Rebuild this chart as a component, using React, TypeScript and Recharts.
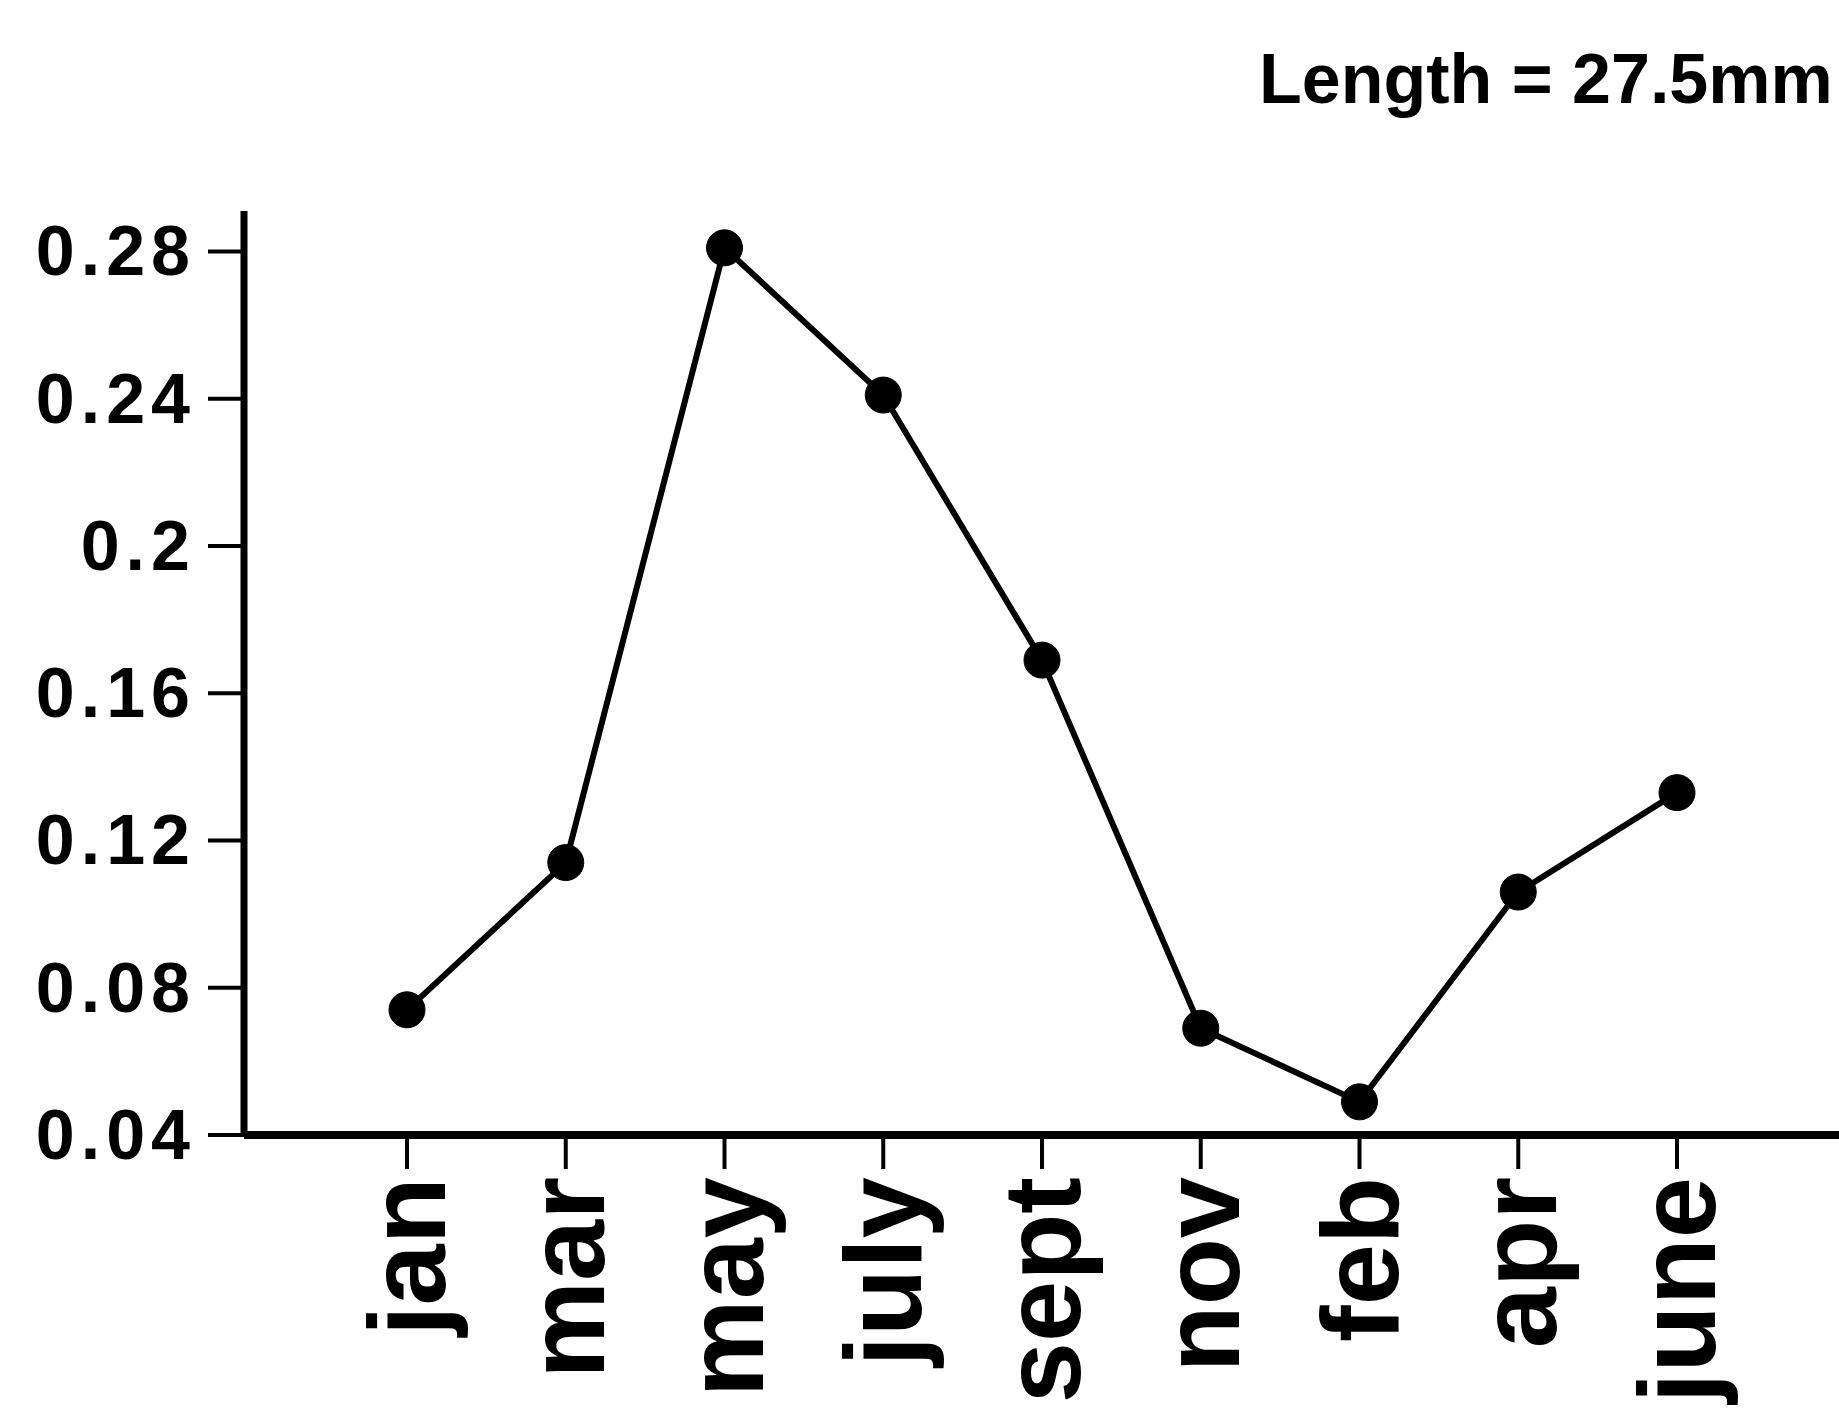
import React from "react";
import { LineChart, Line, XAxis, YAxis } from "recharts";

const months = ["jan", "mar", "may", "july", "sept", "nov", "feb", "apr", "june"];
const values = [0.074, 0.114, 0.281, 0.241, 0.169, 0.069, 0.049, 0.106, 0.133];
const yTicks = [0.04, 0.08, 0.12, 0.16, 0.2, 0.24, 0.28];
const titleText = "Length = 27.5mm";

const data = months.map((m, i) => ({ month: m, value: values[i] }));

const FONT = "'Liberation Sans', Arial, Helvetica, sans-serif";

const YTick = (props: any) => {
  const { x, y, payload } = props;
  return (
    <text
      x={x}
      y={y}
      textAnchor="end"
      dominantBaseline="central"
      fontFamily={FONT}
      fontWeight="bold"
      fontSize={70}
      letterSpacing={6}
      fill="#000"
    >
      {String(payload.value)}
    </text>
  );
};

const XTick = (props: any) => {
  const { x, y, payload } = props;
  return (
    <text
      transform={`translate(${x + 38}, ${y}) rotate(-90)`}
      textAnchor="end"
      fontFamily={FONT}
      fontWeight="bold"
      fontSize={110}
      fill="#000"
    >
      {payload.value}
    </text>
  );
};

export default function App() {
  return (
    <div style={{ position: "absolute", left: 0, top: 0, width: 1839, height: 1415, background: "#fff" }}>
      <div
        style={{
          position: "absolute",
          left: 1259,
          top: 44,
          fontFamily: FONT,
          fontWeight: "bold",
          fontSize: 70,
          lineHeight: 1,
          whiteSpace: "nowrap",
          color: "#000",
        }}
      >
        {titleText}
      </div>
      <LineChart
        width={1839}
        height={1415}
        data={data}
        margin={{ top: 211, right: 0, bottom: 0, left: 0 }}
      >
        <XAxis
          dataKey="month"
          type="category"
          height={280}
          padding={{ left: 163, right: 162 }}
          axisLine={{ stroke: "#000", strokeWidth: 8 }}
          tickLine={{ stroke: "#000", strokeWidth: 4 }}
          tickSize={34}
          tickMargin={8}
          interval={0}
          tick={<XTick />}
        />
        <YAxis
          type="number"
          width={244}
          domain={[0.04, 0.291]}
          ticks={yTicks}
          allowDataOverflow
          axisLine={{ stroke: "#000", strokeWidth: 7 }}
          tickLine={{ stroke: "#000", strokeWidth: 4 }}
          tickSize={36}
          tickMargin={12}
          interval={0}
          tick={<YTick />}
        />
        <Line
          type="linear"
          dataKey="value"
          stroke="#000"
          strokeWidth={6}
          dot={{ r: 18, fill: "#000", stroke: "#000", strokeWidth: 1 }}
          activeDot={false}
          isAnimationActive={false}
        />
      </LineChart>
    </div>
  );
}
